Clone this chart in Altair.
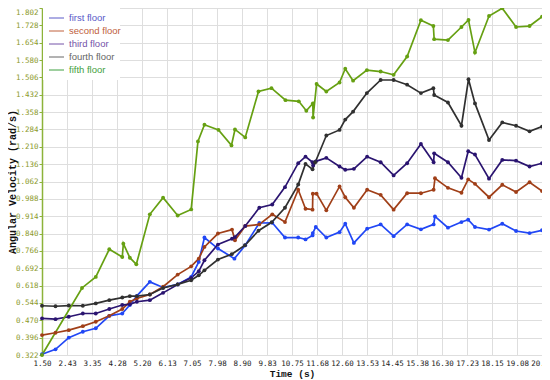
import altair as alt
import pandas as pd

names = ["first floor", "second floor", "third floor", "fourth floor", "fifth floor"]

first_t = [1.50, 2.00, 2.49, 3.01, 3.49, 3.99, 4.47, 4.75, 5.01, 5.49, 5.98, 6.52, 7.02, 7.30, 7.51,
           8.01, 8.62, 9.02, 9.54, 10.02, 10.49, 10.98, 11.25, 11.51, 11.52, 11.63, 12.02, 12.51,
           12.72, 13.04, 13.53, 14.03, 14.51, 15.01, 15.52, 15.99, 16.04, 16.52, 17.02, 17.27,
           17.52, 18.04, 18.53, 19.04, 19.54, 20.00]
first_v = [0.325, 0.346, 0.396, 0.421, 0.436, 0.489, 0.499, 0.535, 0.574, 0.634, 0.610, 0.623, 0.655,
           0.719, 0.823, 0.776, 0.733, 0.790, 0.885, 0.886, 0.823, 0.823, 0.815, 0.832, 0.842, 0.868,
           0.823, 0.846, 0.882, 0.800, 0.861, 0.879, 0.829, 0.879, 0.858, 0.879, 0.913, 0.865, 0.889,
           0.899, 0.868, 0.857, 0.882, 0.851, 0.842, 0.854]

second_t = [1.50, 2.00, 2.49, 3.01, 3.49, 3.99, 4.47, 4.75, 5.01, 5.49, 5.98, 6.52, 7.02, 7.30, 7.51,
            8.01, 8.53, 8.64, 9.02, 9.54, 10.02, 10.49, 10.98, 11.25, 11.51, 11.52, 11.66, 12.02,
            12.51, 12.72, 13.04, 13.53, 14.03, 14.51, 15.01, 15.52, 15.99, 16.04, 16.52, 17.02,
            17.27, 17.52, 18.04, 18.53, 19.04, 19.54, 20.00]
second_v = [0.407, 0.417, 0.428, 0.445, 0.464, 0.489, 0.518, 0.549, 0.563, 0.580, 0.613, 0.665, 0.700,
            0.733, 0.783, 0.840, 0.857, 0.811, 0.872, 0.879, 0.922, 0.889, 1.027, 0.946, 0.942, 1.010,
            1.010, 0.939, 1.041, 0.995, 0.950, 1.027, 1.005, 0.942, 1.012, 1.012, 1.027, 1.076, 1.035,
            1.014, 1.071, 1.052, 0.995, 1.048, 1.017, 1.059, 1.021]

third_t = [1.50, 2.00, 2.49, 3.01, 3.49, 3.99, 4.47, 4.75, 5.01, 5.49, 5.98, 6.52, 7.02, 7.30, 7.51,
           8.01, 8.53, 8.64, 9.02, 9.54, 10.02, 10.49, 10.98, 11.25, 11.51, 11.53, 11.63, 12.02,
           12.51, 12.72, 13.04, 13.53, 14.03, 14.51, 15.01, 15.52, 15.99, 16.01, 16.52, 17.02,
           17.27, 17.52, 18.04, 18.53, 19.04, 19.54, 20.00]
third_v = [0.478, 0.475, 0.485, 0.499, 0.499, 0.518, 0.535, 0.538, 0.549, 0.556, 0.587, 0.623, 0.651,
           0.679, 0.726, 0.793, 0.818, 0.825, 0.872, 0.950, 0.964, 1.038, 1.140, 1.168, 1.144, 1.130,
           1.148, 1.163, 1.126, 1.112, 1.116, 1.168, 1.144, 1.088, 1.140, 1.222, 1.144, 1.182, 1.144,
           1.078, 1.191, 1.177, 1.074, 1.154, 1.151, 1.126, 1.140]

fourth_t = [1.50, 2.00, 2.49, 3.01, 3.49, 3.99, 4.47, 4.75, 5.01, 5.49, 5.98, 6.52, 7.02, 7.30, 7.51,
            8.01, 8.52, 9.01, 9.51, 10.00, 10.49, 10.98, 11.25, 11.51, 11.61, 12.02, 12.51, 12.72,
            13.01, 13.52, 14.03, 14.51, 15.01, 15.52, 15.98, 16.01, 16.52, 17.02, 17.28, 17.52,
            18.04, 18.53, 19.04, 19.54, 20.00]
fourth_v = [0.532, 0.530, 0.533, 0.532, 0.542, 0.556, 0.567, 0.573, 0.573, 0.580, 0.608, 0.623, 0.641,
            0.662, 0.683, 0.729, 0.752, 0.790, 0.852, 0.888, 0.950, 1.049, 1.137, 1.114, 1.144, 1.258,
            1.282, 1.326, 1.360, 1.439, 1.495, 1.495, 1.475, 1.439, 1.460, 1.431, 1.399, 1.300, 1.498,
            1.395, 1.239, 1.314, 1.300, 1.276, 1.296]

fifth_t = [1.50, 2.98, 3.49, 3.99, 4.47, 4.51, 4.75, 4.99, 5.49, 5.98, 6.52, 7.02, 7.27, 7.51, 8.03,
           8.51, 8.64, 9.02, 9.51, 9.99, 10.51, 11.00, 11.28, 11.52, 11.53, 11.66, 12.02, 12.51,
           12.72, 13.01, 13.52, 14.03, 14.51, 15.01, 15.52, 15.98, 16.01, 16.52, 17.02, 17.28,
           17.52, 18.04, 18.53, 19.04, 19.54, 20.00]
fifth_v = [0.322, 0.608, 0.655, 0.773, 0.740, 0.797, 0.737, 0.709, 0.922, 0.993, 0.917, 0.943, 1.233,
           1.304, 1.282, 1.216, 1.284, 1.250, 1.446, 1.460, 1.409, 1.404, 1.364, 1.395, 1.335, 1.478,
           1.446, 1.484, 1.543, 1.492, 1.537, 1.531, 1.517, 1.595, 1.750, 1.725, 1.669, 1.665, 1.721,
           1.751, 1.612, 1.768, 1.801, 1.721, 1.725, 1.765]

x_ticks = [1.50, 2.43, 3.35, 4.28, 5.20, 6.13, 7.05, 7.98, 8.90, 9.83, 10.75, 11.68, 12.60, 13.53,
           14.45, 15.38, 16.30, 17.23, 18.15, 19.08, 20.00]
y_ticks = [0.322, 0.396, 0.470, 0.544, 0.618, 0.692, 0.766, 0.840, 0.914, 0.988, 1.062, 1.136, 1.210,
           1.284, 1.358, 1.432, 1.506, 1.580, 1.654, 1.728, 1.802]

line_colors = ["#2147f5", "#a03f18", "#2a1470", "#303030", "#66a012"]
swatch_colors = ["#5a5ac8", "#c0603c", "#7452a8", "#666666", "#3fa040"]
text_colors = ["#3636d2", "#9a5a2a", "#5a3a9c", "#555555", "#3c8c3c"]

series = [(names[0], first_t, first_v), (names[1], second_t, second_v), (names[2], third_t, third_v),
          (names[3], fourth_t, fourth_v), (names[4], fifth_t, fifth_v)]
rows = []
for name, ts, vs in series:
    for i, (t, v) in enumerate(zip(ts, vs)):
        rows.append({"series": name, "t": t, "v": v, "idx": i})
df = pd.DataFrame(rows)

mono = "DejaVu Sans Mono"
title_font = "Liberation Mono"

x_enc = alt.X("t:Q", scale=alt.Scale(domain=[1.5, 20.0], nice=False, zero=False),
              axis=alt.Axis(values=x_ticks, format=".2f", title="Time (s)", grid=True,
                            gridColor="#dedede", gridWidth=1, domain=False, ticks=False,
                            labelFont=mono, labelFontSize=7.5, labelColor="#222222",
                            labelPadding=4, labelFlush=False, labelOverlap=False,
                            titleFont=title_font, titleFontWeight="bold", titleFontSize=9.5,
                            titleColor="#111111", titleBaseline="top", titleY=13))
y_enc = alt.Y("v:Q", scale=alt.Scale(domain=[0.322, 1.802], nice=False, zero=False),
              axis=alt.Axis(values=y_ticks, format=".3f", title="Angular Velocity (rad/s)",
                            grid=True, gridColor="#dedede", gridWidth=1,
                            domainColor="#8db33a", domainWidth=1.5, tickColor="#8db33a",
                            tickSize=3, labelFont=mono, labelFontSize=7.5, labelColor="#8c9a2c",
                            labelPadding=1, labelOverlap=False, labelFlush=False,
                            labelBaseline={"condition": {"test": "datum.value >= 1.8", "value": "top"},
                                           "value": "middle"},
                            titleFont=title_font, titleFontWeight="bold", titleFontSize=10,
                            titleColor="#111111", titleX=-25))
color_enc = alt.Color("series:N", scale=alt.Scale(domain=names, range=line_colors), legend=None)

base = alt.Chart(df)
lines = base.mark_line(strokeWidth=1.7).encode(x=x_enc, y=y_enc, color=color_enc,
                                                order=alt.Order("idx:Q"))
points = base.mark_circle(size=15, opacity=1).encode(x=x_enc, y=y_enc, color=color_enc)
main = alt.layer(lines, points)

leg_df = pd.DataFrame({"name": names, "k": list(range(len(names)))})
leg_y = alt.Y("k:Q", scale=alt.Scale(domain=[0, 4], range=[10, 62]), axis=None)
box = alt.Chart(pd.DataFrame({"a": [0]})).mark_rect(color="white").encode(
    x=alt.value(1), x2=alt.value(78), y=alt.value(0), y2=alt.value(72))
swatch = alt.Chart(leg_df).mark_rule(strokeWidth=1).encode(
    x=alt.value(7), x2=alt.value(22), y=leg_y,
    color=alt.Color("name:N", scale=alt.Scale(domain=names, range=swatch_colors), legend=None))
labels = alt.Chart(leg_df).mark_text(align="left", baseline="middle", font="Liberation Sans",
                                     fontSize=9.5).encode(
    x=alt.value(27), y=leg_y, text="name:N",
    color=alt.Color("name:N", scale=alt.Scale(domain=names, range=text_colors), legend=None))
legend = alt.layer(box, swatch, labels)

chart = alt.layer(main, legend).resolve_scale(y="independent", color="independent").properties(
    width=500, height=347,
    padding={"left": 34, "top": 0, "right": 0, "bottom": 25},
    autosize=alt.AutoSizeParams(type="none"),
    background="white",
).configure_view(strokeWidth=0)

chart.save("out.html", embed_options={"renderer": "svg", "actions": False})
